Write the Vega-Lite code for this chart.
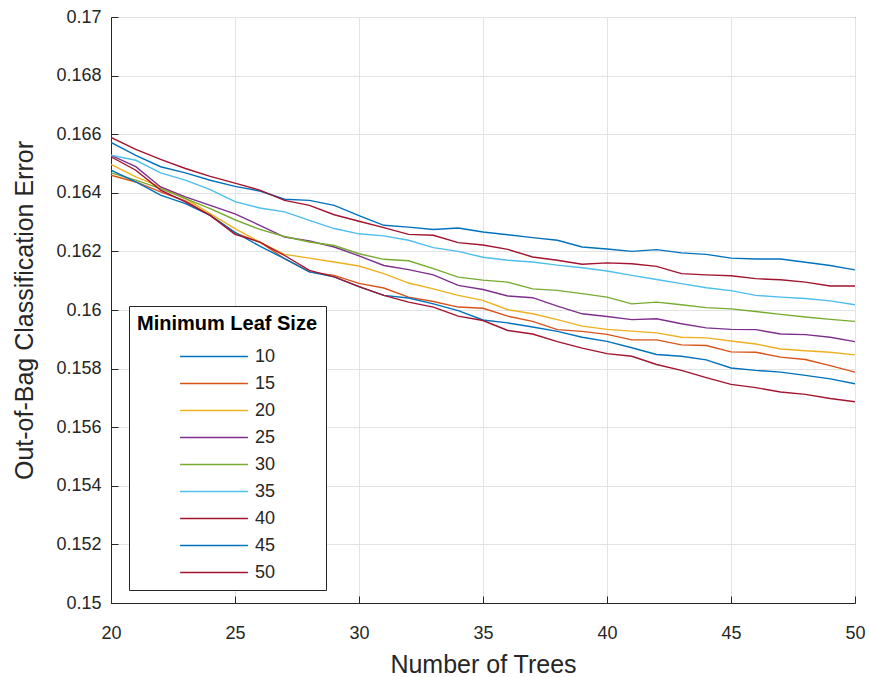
{
  "$schema": "https://vega.github.io/schema/vega-lite/v6.json",
  "width": 744,
  "height": 586,
  "autosize": {"type": "none"},
  "padding": {"left": 111, "top": 17, "right": 14, "bottom": 74},
  "background": "white",
  "config": {
    "view": {"stroke": "#262626", "strokeWidth": 1},
    "font": "Liberation Sans",
    "axis": {
      "domainColor": "#262626",
      "tickColor": "#262626",
      "labelColor": "#262626",
      "titleColor": "#262626",
      "labelFont": "Liberation Sans",
      "titleFont": "Liberation Sans",
      "labelFontSize": 18,
      "titleFontSize": 25,
      "titleFontWeight": "normal",
      "gridColor": "#e3e3e3",
      "gridWidth": 1,
      "tickSize": -7,
      "labelFlush": false
    }
  },
  "data": {"values": [
    {"n":20,"s":"10","e":0.16572},{"n":21,"s":"10","e":0.16528},{"n":22,"s":"10","e":0.16489},{"n":23,"s":"10","e":0.16468},{"n":24,"s":"10","e":0.16443},{"n":25,"s":"10","e":0.16422},{"n":26,"s":"10","e":0.16406},{"n":27,"s":"10","e":0.16378},{"n":28,"s":"10","e":0.16374},{"n":29,"s":"10","e":0.16357},{"n":30,"s":"10","e":0.16322},{"n":31,"s":"10","e":0.16289},{"n":32,"s":"10","e":0.16283},{"n":33,"s":"10","e":0.16275},{"n":34,"s":"10","e":0.1628},{"n":35,"s":"10","e":0.16266},{"n":36,"s":"10","e":0.16257},{"n":37,"s":"10","e":0.16247},{"n":38,"s":"10","e":0.16238},{"n":39,"s":"10","e":0.16215},{"n":40,"s":"10","e":0.16208},{"n":41,"s":"10","e":0.162},{"n":42,"s":"10","e":0.16206},{"n":43,"s":"10","e":0.16195},{"n":44,"s":"10","e":0.1619},{"n":45,"s":"10","e":0.16177},{"n":46,"s":"10","e":0.16174},{"n":47,"s":"10","e":0.16174},{"n":48,"s":"10","e":0.16163},{"n":49,"s":"10","e":0.16152},{"n":50,"s":"10","e":0.16137},
    {"n":20,"s":"15","e":0.1646},{"n":21,"s":"15","e":0.16437},{"n":22,"s":"15","e":0.16403},{"n":23,"s":"15","e":0.16372},{"n":24,"s":"15","e":0.16323},{"n":25,"s":"15","e":0.16263},{"n":26,"s":"15","e":0.16232},{"n":27,"s":"15","e":0.16175},{"n":28,"s":"15","e":0.1613},{"n":29,"s":"15","e":0.16118},{"n":30,"s":"15","e":0.16091},{"n":31,"s":"15","e":0.16075},{"n":32,"s":"15","e":0.16044},{"n":33,"s":"15","e":0.16029},{"n":34,"s":"15","e":0.1601},{"n":35,"s":"15","e":0.16006},{"n":36,"s":"15","e":0.15979},{"n":37,"s":"15","e":0.15961},{"n":38,"s":"15","e":0.15933},{"n":39,"s":"15","e":0.15927},{"n":40,"s":"15","e":0.15917},{"n":41,"s":"15","e":0.15898},{"n":42,"s":"15","e":0.15898},{"n":43,"s":"15","e":0.15881},{"n":44,"s":"15","e":0.15879},{"n":45,"s":"15","e":0.15857},{"n":46,"s":"15","e":0.15856},{"n":47,"s":"15","e":0.15839},{"n":48,"s":"15","e":0.15831},{"n":49,"s":"15","e":0.1581},{"n":50,"s":"15","e":0.15788},
    {"n":20,"s":"20","e":0.16497},{"n":21,"s":"20","e":0.16454},{"n":22,"s":"20","e":0.1642},{"n":23,"s":"20","e":0.1638},{"n":24,"s":"20","e":0.16329},{"n":25,"s":"20","e":0.16278},{"n":26,"s":"20","e":0.16232},{"n":27,"s":"20","e":0.1619},{"n":28,"s":"20","e":0.16177},{"n":29,"s":"20","e":0.16164},{"n":30,"s":"20","e":0.1615},{"n":31,"s":"20","e":0.16124},{"n":32,"s":"20","e":0.16092},{"n":33,"s":"20","e":0.16072},{"n":34,"s":"20","e":0.1605},{"n":35,"s":"20","e":0.16033},{"n":36,"s":"20","e":0.16001},{"n":37,"s":"20","e":0.15987},{"n":38,"s":"20","e":0.15967},{"n":39,"s":"20","e":0.15945},{"n":40,"s":"20","e":0.15934},{"n":41,"s":"20","e":0.15928},{"n":42,"s":"20","e":0.15922},{"n":43,"s":"20","e":0.15907},{"n":44,"s":"20","e":0.15905},{"n":45,"s":"20","e":0.15894},{"n":46,"s":"20","e":0.15884},{"n":47,"s":"20","e":0.15867},{"n":48,"s":"20","e":0.15861},{"n":49,"s":"20","e":0.15856},{"n":50,"s":"20","e":0.15847},
    {"n":20,"s":"25","e":0.16528},{"n":21,"s":"25","e":0.16489},{"n":22,"s":"25","e":0.1642},{"n":23,"s":"25","e":0.16386},{"n":24,"s":"25","e":0.16357},{"n":25,"s":"25","e":0.16328},{"n":26,"s":"25","e":0.16289},{"n":27,"s":"25","e":0.16249},{"n":28,"s":"25","e":0.16236},{"n":29,"s":"25","e":0.16215},{"n":30,"s":"25","e":0.16185},{"n":31,"s":"25","e":0.16152},{"n":32,"s":"25","e":0.16138},{"n":33,"s":"25","e":0.1612},{"n":34,"s":"25","e":0.16084},{"n":35,"s":"25","e":0.1607},{"n":36,"s":"25","e":0.16048},{"n":37,"s":"25","e":0.16042},{"n":38,"s":"25","e":0.16013},{"n":39,"s":"25","e":0.15987},{"n":40,"s":"25","e":0.15978},{"n":41,"s":"25","e":0.15967},{"n":42,"s":"25","e":0.1597},{"n":43,"s":"25","e":0.15953},{"n":44,"s":"25","e":0.15939},{"n":45,"s":"25","e":0.15934},{"n":46,"s":"25","e":0.15933},{"n":47,"s":"25","e":0.15918},{"n":48,"s":"25","e":0.15916},{"n":49,"s":"25","e":0.15907},{"n":50,"s":"25","e":0.15892},
    {"n":20,"s":"30","e":0.16468},{"n":21,"s":"30","e":0.16443},{"n":22,"s":"30","e":0.16414},{"n":23,"s":"30","e":0.1638},{"n":24,"s":"30","e":0.16346},{"n":25,"s":"30","e":0.16308},{"n":26,"s":"30","e":0.16275},{"n":27,"s":"30","e":0.16251},{"n":28,"s":"30","e":0.16232},{"n":29,"s":"30","e":0.1622},{"n":30,"s":"30","e":0.16192},{"n":31,"s":"30","e":0.16173},{"n":32,"s":"30","e":0.16168},{"n":33,"s":"30","e":0.16141},{"n":34,"s":"30","e":0.16112},{"n":35,"s":"30","e":0.16102},{"n":36,"s":"30","e":0.16095},{"n":37,"s":"30","e":0.16072},{"n":38,"s":"30","e":0.16067},{"n":39,"s":"30","e":0.16056},{"n":40,"s":"30","e":0.16044},{"n":41,"s":"30","e":0.16021},{"n":42,"s":"30","e":0.16027},{"n":43,"s":"30","e":0.16018},{"n":44,"s":"30","e":0.16008},{"n":45,"s":"30","e":0.16004},{"n":46,"s":"30","e":0.15995},{"n":47,"s":"30","e":0.15985},{"n":48,"s":"30","e":0.15976},{"n":49,"s":"30","e":0.15968},{"n":50,"s":"30","e":0.15961},
    {"n":20,"s":"35","e":0.16528},{"n":21,"s":"35","e":0.16511},{"n":22,"s":"35","e":0.16468},{"n":23,"s":"35","e":0.16443},{"n":24,"s":"35","e":0.16411},{"n":25,"s":"35","e":0.1637},{"n":26,"s":"35","e":0.16348},{"n":27,"s":"35","e":0.16335},{"n":28,"s":"35","e":0.16306},{"n":29,"s":"35","e":0.16278},{"n":30,"s":"35","e":0.1626},{"n":31,"s":"35","e":0.16253},{"n":32,"s":"35","e":0.16238},{"n":33,"s":"35","e":0.16213},{"n":34,"s":"35","e":0.162},{"n":35,"s":"35","e":0.1618},{"n":36,"s":"35","e":0.1617},{"n":37,"s":"35","e":0.16164},{"n":38,"s":"35","e":0.16153},{"n":39,"s":"35","e":0.16144},{"n":40,"s":"35","e":0.16133},{"n":41,"s":"35","e":0.16118},{"n":42,"s":"35","e":0.16104},{"n":43,"s":"35","e":0.1609},{"n":44,"s":"35","e":0.16076},{"n":45,"s":"35","e":0.16066},{"n":46,"s":"35","e":0.1605},{"n":47,"s":"35","e":0.16044},{"n":48,"s":"35","e":0.16039},{"n":49,"s":"35","e":0.16031},{"n":50,"s":"35","e":0.16018},
    {"n":20,"s":"40","e":0.16589},{"n":21,"s":"40","e":0.16548},{"n":22,"s":"40","e":0.16514},{"n":23,"s":"40","e":0.16483},{"n":24,"s":"40","e":0.16456},{"n":25,"s":"40","e":0.16433},{"n":26,"s":"40","e":0.16409},{"n":27,"s":"40","e":0.16374},{"n":28,"s":"40","e":0.16357},{"n":29,"s":"40","e":0.16325},{"n":30,"s":"40","e":0.16303},{"n":31,"s":"40","e":0.16281},{"n":32,"s":"40","e":0.16258},{"n":33,"s":"40","e":0.16255},{"n":34,"s":"40","e":0.1623},{"n":35,"s":"40","e":0.16222},{"n":36,"s":"40","e":0.16207},{"n":37,"s":"40","e":0.16181},{"n":38,"s":"40","e":0.1617},{"n":39,"s":"40","e":0.16156},{"n":40,"s":"40","e":0.16161},{"n":41,"s":"40","e":0.16158},{"n":42,"s":"40","e":0.16149},{"n":43,"s":"40","e":0.16124},{"n":44,"s":"40","e":0.1612},{"n":45,"s":"40","e":0.16117},{"n":46,"s":"40","e":0.16107},{"n":47,"s":"40","e":0.16103},{"n":48,"s":"40","e":0.16095},{"n":49,"s":"40","e":0.16082},{"n":50,"s":"40","e":0.16082},
    {"n":20,"s":"45","e":0.16477},{"n":21,"s":"45","e":0.16437},{"n":22,"s":"45","e":0.16392},{"n":23,"s":"45","e":0.16363},{"n":24,"s":"45","e":0.16323},{"n":25,"s":"45","e":0.16265},{"n":26,"s":"45","e":0.16218},{"n":27,"s":"45","e":0.16175},{"n":28,"s":"45","e":0.1613},{"n":29,"s":"45","e":0.16113},{"n":30,"s":"45","e":0.1608},{"n":31,"s":"45","e":0.1605},{"n":32,"s":"45","e":0.16041},{"n":33,"s":"45","e":0.16021},{"n":34,"s":"45","e":0.15998},{"n":35,"s":"45","e":0.15966},{"n":36,"s":"45","e":0.15956},{"n":37,"s":"45","e":0.15942},{"n":38,"s":"45","e":0.15927},{"n":39,"s":"45","e":0.15907},{"n":40,"s":"45","e":0.15893},{"n":41,"s":"45","e":0.15871},{"n":42,"s":"45","e":0.15848},{"n":43,"s":"45","e":0.15842},{"n":44,"s":"45","e":0.1583},{"n":45,"s":"45","e":0.15802},{"n":46,"s":"45","e":0.15794},{"n":47,"s":"45","e":0.15788},{"n":48,"s":"45","e":0.15777},{"n":49,"s":"45","e":0.15765},{"n":50,"s":"45","e":0.15748},
    {"n":20,"s":"50","e":0.16523},{"n":21,"s":"50","e":0.16477},{"n":22,"s":"50","e":0.16409},{"n":23,"s":"50","e":0.16369},{"n":24,"s":"50","e":0.16323},{"n":25,"s":"50","e":0.16258},{"n":26,"s":"50","e":0.16232},{"n":27,"s":"50","e":0.16186},{"n":28,"s":"50","e":0.16135},{"n":29,"s":"50","e":0.16113},{"n":30,"s":"50","e":0.1608},{"n":31,"s":"50","e":0.1605},{"n":32,"s":"50","e":0.16027},{"n":33,"s":"50","e":0.1601},{"n":34,"s":"50","e":0.15979},{"n":35,"s":"50","e":0.15964},{"n":36,"s":"50","e":0.1593},{"n":37,"s":"50","e":0.15918},{"n":38,"s":"50","e":0.15892},{"n":39,"s":"50","e":0.1587},{"n":40,"s":"50","e":0.15851},{"n":41,"s":"50","e":0.15842},{"n":42,"s":"50","e":0.15814},{"n":43,"s":"50","e":0.15794},{"n":44,"s":"50","e":0.15769},{"n":45,"s":"50","e":0.15746},{"n":46,"s":"50","e":0.15735},{"n":47,"s":"50","e":0.1572},{"n":48,"s":"50","e":0.15712},{"n":49,"s":"50","e":0.15698},{"n":50,"s":"50","e":0.15687}
  ]},
  "mark": {"type": "line", "strokeWidth": 1.4, "clip": true},
  "encoding": {
    "x": {
      "field": "n", "type": "quantitative",
      "scale": {"domain": [20, 50], "nice": false, "zero": false},
      "axis": {"title": "Number of Trees", "values": [20, 25, 30, 35, 40, 45, 50], "format": "d", "labelPadding": 28, "titlePadding": 10}
    },
    "y": {
      "field": "e", "type": "quantitative",
      "scale": {"domain": [0.15, 0.17], "nice": false, "zero": false},
      "axis": {"title": "Out-of-Bag Classification Error", "values": [0.15, 0.152, 0.154, 0.156, 0.158, 0.16, 0.162, 0.164, 0.166, 0.168, 0.17], "format": "~g", "labelPadding": 17, "titlePadding": 18}
    },
    "color": {
      "field": "s", "type": "nominal",
      "scale": {
        "domain": ["10", "15", "20", "25", "30", "35", "40", "45", "50"],
        "range": ["#0072BD", "#D95319", "#EDB120", "#7E2F8E", "#77AC30", "#4DBEEE", "#A2142F", "#0072BD", "#A2142F"]
      },
      "legend": {
        "title": "Minimum Leaf Size",
        "orient": "none",
        "legendX": 18,
        "legendY": 289,
        "fillColor": "white",
        "strokeColor": "#262626",
        "padding": 8,
        "titleFontSize": 20,
        "titleFontWeight": "bold",
        "titleColor": "black",
        "titleAnchor": "middle",
        "titleLimit": 400,
        "titlePadding": 14,
        "labelFontSize": 18,
        "labelColor": "#262626",
        "symbolType": "stroke",
        "symbolSize": 4600,
        "symbolStrokeWidth": 1.4,
        "symbolOffset": 0,
        "clipHeight": 17,
        "rowPadding": 8,
        "labelOffset": 6
      }
    }
  }
}
